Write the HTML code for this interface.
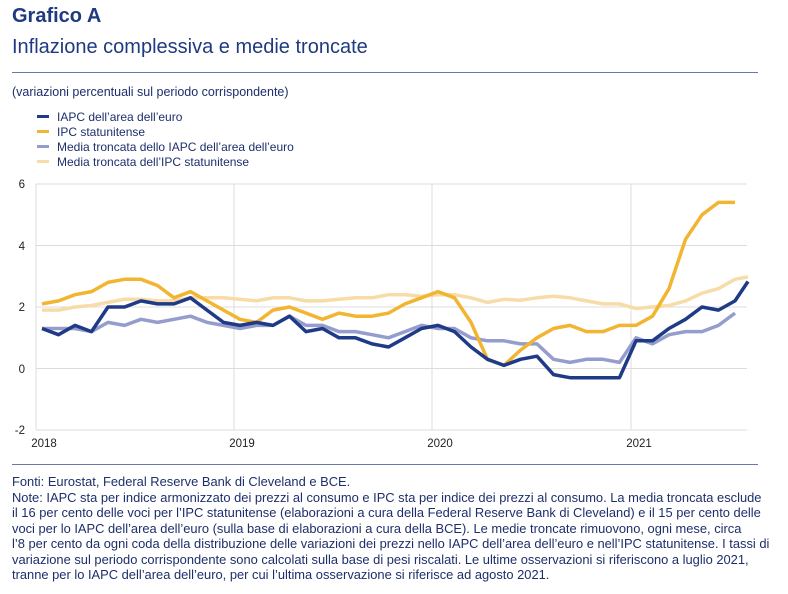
<!DOCTYPE html>
<html><head><meta charset="utf-8"><style>
body{margin:0;width:788px;height:594px;background:#fff;font-family:"Liberation Sans",Arial,sans-serif;color:#1d2f6b;position:relative;overflow:hidden}
.a{position:absolute;white-space:nowrap}
</style></head><body>
<div class="a" style="left:12px;top:5px;font-size:20px;font-weight:bold;color:#1e3a80">Grafico A</div>
<div class="a" style="left:12px;top:36px;font-size:20px;color:#1e3a80">Inflazione complessiva e medie troncate</div>
<div class="a" style="left:12px;top:72px;width:746px;height:1px;background:#6a78a8"></div>
<div class="a" style="left:12px;top:85px;font-size:12.5px">(variazioni percentuali sul periodo corrispondente)</div>
<svg class="a" style="left:0;top:0" width="788" height="594" id="s">
<g font-family="Liberation Sans,Arial,sans-serif" font-size="12" fill="#1d2f6b">
<rect x="37" y="115" width="12" height="3" fill="#1f3a87"/><text x="57" y="121">IAPC dell’area dell’euro</text>
<rect x="37" y="130" width="12" height="3" fill="#f2b531"/><text x="57" y="136">IPC statunitense</text>
<rect x="37" y="145" width="12" height="3" fill="#959dcc"/><text x="57" y="151">Media troncata dello IAPC dell’area dell’euro</text>
<rect x="37" y="160" width="12" height="3" fill="#f7dca8"/><text x="57" y="166">Media troncata dell’IPC statunitense</text>
</g>
<g stroke="#dcdcdc" stroke-width="1">
<line x1="36" y1="184" x2="747" y2="184"/><line x1="36" y1="245.5" x2="747" y2="245.5"/><line x1="36" y1="307" x2="747" y2="307"/><line x1="36" y1="368.5" x2="747" y2="368.5"/><line x1="36" y1="430" x2="747" y2="430"/>
<line x1="36" y1="184" x2="36" y2="430"/><line x1="234" y1="184" x2="234" y2="430"/><line x1="432" y1="184" x2="432" y2="430"/><line x1="631" y1="184" x2="631" y2="430"/>
</g>
<g font-family="Liberation Sans,Arial,sans-serif" font-size="11.5" fill="#222">
<text x="25" y="188" text-anchor="end">6</text><text x="25" y="250" text-anchor="end">4</text><text x="25" y="311" text-anchor="end">2</text><text x="25" y="373" text-anchor="end">0</text><text x="25" y="434" text-anchor="end">-2</text>
<text x="44" y="447" text-anchor="middle">2018</text><text x="242" y="447" text-anchor="middle">2019</text><text x="440" y="447" text-anchor="middle">2020</text><text x="639" y="447" text-anchor="middle">2021</text>
</g>
<g id="L" fill="none" stroke-width="3.5" stroke-linejoin="round"></g>
</svg>
<div class="a" style="left:12px;top:464px;width:746px;height:1px;background:#6a78a8"></div>
<div class="a" style="left:12px;top:474px;font-size:12.9px;line-height:15.5px;white-space:nowrap">Fonti: Eurostat, Federal Reserve Bank di Cleveland e BCE.<br>Note: IAPC sta per indice armonizzato dei prezzi al consumo e IPC sta per indice dei prezzi al consumo. La media troncata esclude<br>il 16 per cento delle voci per l’IPC statunitense (elaborazioni a cura della Federal Reserve Bank di Cleveland) e il 15 per cento delle<br>voci per lo IAPC dell’area dell’euro (sulla base di elaborazioni a cura della BCE). Le medie troncate rimuovono, ogni mese, circa<br>l’8 per cento da ogni coda della distribuzione delle variazioni dei prezzi nello IAPC dell’area dell’euro e nell’IPC statunitense. I tassi di<br>variazione sul periodo corrispondente sono calcolati sulla base di pesi riscalati. Le ultime osservazioni si riferiscono a luglio 2021,<br>tranne per lo IAPC dell’area dell’euro, per cui l’ultima osservazione si riferisce ad agosto 2021.</div>
<script>
var S=[
["#f7dca8",[1.9,1.9,2.0,2.05,2.15,2.25,2.25,2.2,2.2,2.3,2.3,2.3,2.25,2.2,2.3,2.3,2.2,2.2,2.25,2.3,2.3,2.4,2.4,2.35,2.4,2.4,2.3,2.15,2.25,2.22,2.3,2.35,2.3,2.2,2.1,2.1,1.95,2.0,2.05,2.2,2.45,2.6,2.9,3.0]],
["#959dcc",[1.3,1.3,1.3,1.2,1.5,1.4,1.6,1.5,1.6,1.7,1.5,1.4,1.3,1.4,1.4,1.7,1.4,1.4,1.2,1.2,1.1,1.0,1.2,1.4,1.3,1.3,1.0,0.9,0.9,0.8,0.8,0.3,0.2,0.3,0.3,0.2,1.0,0.8,1.1,1.2,1.2,1.4,1.8]],
["#f2b531",[2.1,2.2,2.4,2.5,2.8,2.9,2.9,2.7,2.3,2.5,2.2,1.9,1.6,1.5,1.9,2.0,1.8,1.6,1.8,1.7,1.7,1.8,2.1,2.3,2.5,2.3,1.5,0.3,0.1,0.6,1.0,1.3,1.4,1.2,1.2,1.4,1.4,1.7,2.6,4.2,5.0,5.4,5.4]],
["#1f3a87",[1.3,1.1,1.4,1.2,2.0,2.0,2.2,2.1,2.1,2.3,1.9,1.5,1.4,1.5,1.4,1.7,1.2,1.3,1.0,1.0,0.8,0.7,1.0,1.3,1.4,1.2,0.7,0.3,0.1,0.3,0.4,-0.2,-0.3,-0.3,-0.3,-0.3,0.9,0.9,1.3,1.6,2.0,1.9,2.2,3.0]]];
var g=document.getElementById("L"),h="";
S.forEach(function(s){var p=s[1].map(function(v,i){var x=42+16.5*i,y=368.5-30.75*v;if(x>748){var x0=42+16.5*(i-1),y0=368.5-30.75*s[1][i-1],t=(748-x0)/(x-x0);x=748;y=y0+(y-y0)*t;}return x.toFixed(1)+","+y.toFixed(1)}).join(" ");h+='<polyline stroke="'+s[0]+'" points="'+p+'"/>';});
g.innerHTML=h;
</script>
</body></html>
